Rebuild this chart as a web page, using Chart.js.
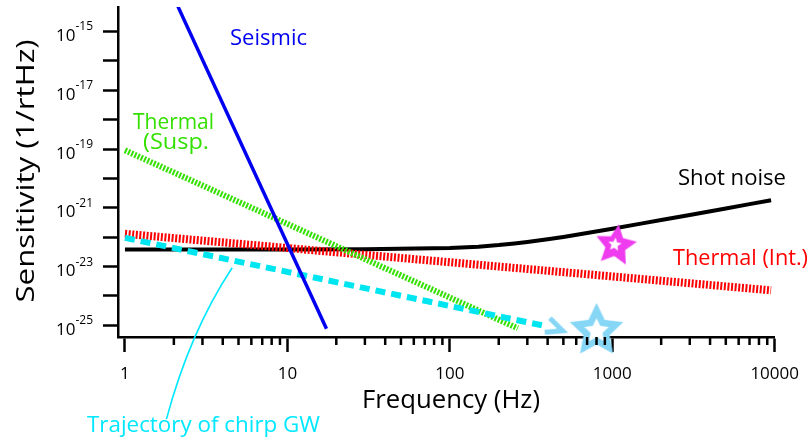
<!DOCTYPE html>
<html>
<head>
<meta charset="utf-8">
<script src="https://cdn.jsdelivr.net/npm/chart.js@4.4.1/dist/chart.umd.min.js"></script>
<style>
html,body{margin:0;padding:0;background:#fff;}
#wrap{width:811px;height:441px;position:relative;}
</style>
</head>
<body>
<div id="wrap"><canvas id="c" width="811" height="441"></canvas></div>
<script>
// ---------------- data ----------------
const xTickValues = [1, 10, 100, 1000, 10000];
const xMinorTickValues = [2,3,4,5,6,7,8,9, 20,30,40,50,60,70,80,90, 200,300,400,500,600,700,800,900, 2000,3000,4000,5000,6000,7000,8000,9000];
const yTickValues = [1e-25,1e-24,1e-23,1e-22,1e-21,1e-20,1e-19,1e-18,1e-17,1e-16,1e-15];
const yLabelExponents = [-25, -23, -21, -19, -17, -15];
const xRange = [0.906, 10000];
const yRange = [4.27e-26, 6.8e-15];

const seismicFreq = [2.12, 17.4];
const seismicVal  = [7.0e-15, 7.7e-26];

const shotFreq = [1, 10, 30, 100, 150, 200, 250, 300, 400, 500, 700, 1000, 1500, 2000, 3000, 5000, 7000, 9500];
const shotVal  = [3.80e-23, 3.80e-23, 3.84e-23, 4.26e-23, 4.75e-23, 5.37e-23, 6.08e-23, 6.85e-23, 8.49e-23, 1.02e-22, 1.38e-22, 1.94e-22, 2.88e-22, 3.82e-22, 5.71e-22, 9.5e-22, 1.33e-21, 1.81e-21];

const thermIntFreq = [1, 9500];
const thermIntVal  = [1.3e-22, 1.55e-24];

const thermSuspFreq = [1, 262];
const thermSuspVal  = [9.0e-20, 7.9e-26];

const chirpFreq = [1, 400];
const chirpVal  = [9.5e-23, 9.1e-26];

const arrowFreq = [495];
const arrowVal  = [6.5e-26];

const cyanStarFreq = [800];
const cyanStarVal  = [7.0e-26];

const magentaStarFreq = [1050];
const magentaStarVal  = [5.6e-23];

const calloutFreq = [4.57, 2.51, 1.80];
const calloutVal  = [9.1e-24, 6.0e-26, 6.4e-29];

// ---------------- helpers ----------------
const FONT = "'Open Sans', 'Noto Sans', sans-serif";
function pts(xs, ys){ return xs.map((x,i)=>({x:x, y:ys[i]})); }

function starPath(ctx, cx, cy, R, r, rotDeg){
  const rot = rotDeg*Math.PI/180;
  ctx.beginPath();
  for (let i=0;i<10;i++){
    const rad = (i%2===0)?R:r;
    const a = -Math.PI/2 + rot + i*Math.PI/5;
    const px = cx + rad*Math.cos(a), py = cy + rad*Math.sin(a);
    if(i===0) ctx.moveTo(px,py); else ctx.lineTo(px,py);
  }
  ctx.closePath();
}
function outlineStar(){
  const c = document.createElement('canvas'); c.width=70; c.height=70;
  const g = c.getContext('2d');
  starPath(g, 35, 36, 20.5, 10, 0);
  g.fillStyle='#ffffff'; g.fill();
  g.lineWidth=6.5; g.lineJoin='miter'; g.miterLimit=10; g.strokeStyle='#86d6f6'; g.stroke();
  return c;
}
function filledStar(){
  const c = document.createElement('canvas'); c.width=56; c.height=56;
  const g = c.getContext('2d');
  starPath(g, 28, 29, 21.5, 10.5, 8);
  g.fillStyle='#ee3cee'; g.fill();
  starPath(g, 27, 28, 7, 3.2, 8);
  g.fillStyle='#ffffff'; g.fill();
  return c;
}
function chevron(){
  const c = document.createElement('canvas'); c.width=48; c.height=48;
  const g = c.getContext('2d');
  const L = 18, h = 25*Math.PI/180;
  g.beginPath();
  g.moveTo(24 - L*Math.cos(h), 24 - L*Math.sin(h));
  g.lineTo(24, 24);
  g.lineTo(24 - L*Math.cos(h), 24 + L*Math.sin(h));
  g.lineWidth=5; g.lineJoin='miter'; g.miterLimit=10; g.strokeStyle='#86d6f6'; g.stroke();
  return c;
}
function drawText(ctx, text, x, y, size, color, align, targetWidth, rotate){
  ctx.save();
  ctx.font = size + 'px ' + FONT;
  ctx.fillStyle = color;
  ctx.textBaseline = 'alphabetic';
  ctx.textAlign = align || 'left';
  ctx.translate(x, y);
  if (rotate) ctx.rotate(rotate);
  if (targetWidth){
    const w = ctx.measureText(text).width;
    ctx.scale(targetWidth / w, 1);
  }
  ctx.fillText(text, 0, 0);
  ctx.restore();
}

const decor = {
  id: 'decor',
  afterDraw(chart){
    const ctx = chart.ctx, xs = chart.scales.x, ys = chart.scales.y, ca = chart.chartArea;
    ctx.save();
    // minor x ticks
    ctx.strokeStyle = '#000'; ctx.lineWidth = 2.5; ctx.lineCap='butt';
    xMinorTickValues.forEach(v=>{
      const px = xs.getPixelForValue(v);
      ctx.beginPath(); ctx.moveTo(px, ca.bottom); ctx.lineTo(px, ca.bottom + 8); ctx.stroke();
    });
    // y tick labels with superscript exponents
    yLabelExponents.forEach(e=>{
      const py = ys.getPixelForValue(Math.pow(10, e));
      ctx.font = '17px ' + FONT; ctx.fillStyle = '#000';
      ctx.textAlign = 'right'; ctx.textBaseline = 'alphabetic';
      ctx.fillText('10', 75.5, py + 9.5);
      ctx.font = '12px ' + FONT; ctx.textAlign = 'left';
      ctx.fillText(String(e), 75.5, py - 1);
    });
    // callout curve for chirp trajectory
    const p = calloutFreq.map((f,i)=>[xs.getPixelForValue(f), ys.getPixelForValue(calloutVal[i])]);
    ctx.beginPath(); ctx.moveTo(p[0][0], p[0][1]);
    ctx.quadraticCurveTo(p[1][0], p[1][1], p[2][0], p[2][1]);
    ctx.strokeStyle = '#00e8ff'; ctx.lineWidth = 1.6; ctx.stroke();
    ctx.restore();

    // annotation texts
    drawText(ctx, 'Seismic', 230, 45, 21, '#0000f0', 'left', 77);
    drawText(ctx, 'Thermal', 133, 128.5, 21, '#33e000', 'left', 81);
    drawText(ctx, '(Susp.', 143, 148.5, 21, '#33e000', 'left', 66);
    drawText(ctx, 'Shot noise', 678, 185, 21, '#000', 'left', 108);
    drawText(ctx, 'Thermal (Int.)', 673, 265, 21, '#ff0000', 'left', 135);
    drawText(ctx, 'Trajectory of chirp GW', 87, 431.5, 22, '#00e8ff', 'left', 233);
    drawText(ctx, 'Frequency (Hz)', 451, 408.3, 25, '#000', 'center', 178);
    drawText(ctx, 'Sensitivity (1/rtHz)', 33.5, 171, 25, '#000', 'center', 263, -Math.PI/2);
  }
};

Chart.defaults.font.family = FONT;

new Chart(document.getElementById('c'), {
  type: 'line',
  data: {
    datasets: [
      { label:'Magenta star', type:'scatter', data: pts(magentaStarFreq, magentaStarVal),
        pointStyle: filledStar(), pointRadius: 5, clip: false, showLine:false },
      { label:'Cyan star', type:'scatter', data: pts(cyanStarFreq, cyanStarVal),
        pointStyle: outlineStar(), pointRadius: 5, clip: false, showLine:false },
      { label:'Arrow', type:'scatter', data: pts(arrowFreq, arrowVal),
        pointStyle: chevron(), pointRadius: 5, rotation: 20, clip: false, showLine:false },
      { label:'Seismic', data: pts(seismicFreq, seismicVal), borderColor:'#0000f0',
        borderWidth:3.5, pointRadius:0, fill:false, tension:0 },
      { label:'Chirp', data: pts(chirpFreq, chirpVal), borderColor:'#00e6f0',
        borderWidth:6, borderDash:[10,6], borderCapStyle:'butt', pointRadius:0, fill:false },
      { label:'Thermal (Susp.)', data: pts(thermSuspFreq, thermSuspVal), borderColor:'#33e000',
        borderWidth:6, borderDash:[2,1.5], borderCapStyle:'butt', pointRadius:0, fill:false },
      { label:'Thermal (Int.)', data: pts(thermIntFreq, thermIntVal), borderColor:'#ff0000',
        borderWidth:8, borderDash:[2,1.6], borderCapStyle:'butt', pointRadius:0, fill:false },
      { label:'Shot noise', data: pts(shotFreq, shotVal), borderColor:'#000000',
        borderWidth:4, pointRadius:0, fill:false, tension:0, borderJoinStyle:'round' }
    ]
  },
  options: {
    responsive: false,
    animation: false,
    events: [],
    layout: { padding: { top: 7, right: 33, left: 0, bottom: 0 } },
    plugins: { legend: { display:false }, tooltip: { enabled:false } },
    scales: {
      x: {
        type: 'logarithmic', position: 'bottom',
        min: xRange[0], max: xRange[1],
        afterBuildTicks(scale){ scale.ticks = xTickValues.map(v=>({value:v})); },
        afterFit(scale){ scale.height = 104; },
        grid: { display:true, drawOnChartArea:false, drawTicks:true, tickLength:15, tickWidth:2.5, tickColor:'#000' },
        border: { display:true, color:'#000', width:2.5 },
        ticks: { autoSkip:false, maxRotation:0, padding:12, color:'#000', font:{ size:17 },
                 callback: v => String(v) }
      },
      y: {
        type: 'logarithmic', position: 'left',
        min: yRange[0], max: yRange[1],
        afterBuildTicks(scale){ scale.ticks = yTickValues.map(v=>({value:v})); },
        afterFit(scale){ scale.width = 118; },
        grid: { display:true, drawOnChartArea:false, drawTicks:true, tickLength:15, tickWidth:2.5, tickColor:'#000' },
        border: { display:true, color:'#000', width:2.5 },
        ticks: { display:false }
      }
    }
  },
  plugins: [decor]
});
</script>
</body>
</html>
